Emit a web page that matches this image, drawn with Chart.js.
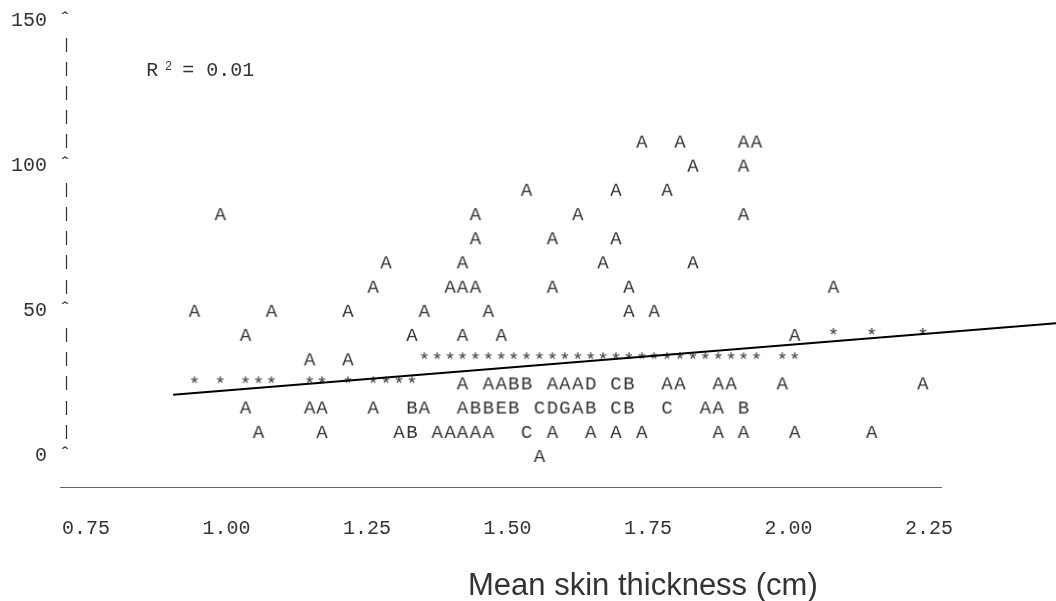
<!DOCTYPE html>
<html>
<head>
<meta charset="utf-8">
<script src="https://cdn.jsdelivr.net/npm/chart.js@4.4.1/dist/chart.umd.min.js"></script>
<style>
  html, body { margin: 0; padding: 0; background: #fff; }
  #wrap { width: 1056px; height: 601px; position: relative; }
</style>
</head>
<body>
<div id="wrap"><canvas id="plot"></canvas></div>
<script>
// axis ticks
const xTicks = [0.75, 1.00, 1.25, 1.50, 1.75, 2.00, 2.25];
const yMajorTicks = [0, 50, 100, 150];
const rowsPerMajor = 6;

// observed cells: x (cm), y, number of obs in the cell (A=1, B=2, ...)
const obsX = [
  1.739, 1.807, 1.920, 1.943,
  1.830, 1.920,
  1.534, 1.693, 1.784,
  0.989, 1.443, 1.625, 1.920,
  1.443, 1.580, 1.693,
  1.284, 1.420, 1.670, 1.830,
  1.261, 1.398, 1.420, 1.443, 1.580, 1.716, 2.080,
  0.943, 1.080, 1.216, 1.352, 1.466, 1.716, 1.761,
  1.034, 1.330, 1.420, 1.489, 2.011,
  1.148, 1.216,
  1.420, 1.466, 1.489, 1.511, 1.534, 1.580, 1.602, 1.625, 1.648, 1.693, 1.716, 1.784, 1.807, 1.875, 1.898, 1.989, 2.239,
  1.034, 1.148, 1.170, 1.261, 1.330, 1.352, 1.420, 1.443, 1.466, 1.489, 1.511, 1.557, 1.580, 1.602, 1.625, 1.648, 1.693, 1.716, 1.784, 1.852, 1.875, 1.920,
  1.057, 1.170, 1.307, 1.330, 1.375, 1.398, 1.420, 1.443, 1.466, 1.534, 1.580, 1.648, 1.693, 1.739, 1.875, 1.920, 2.011, 2.148,
  1.557
];
const obsY = [
  108.3, 108.3, 108.3, 108.3,
  100, 100,
  91.7, 91.7, 91.7,
  83.3, 83.3, 83.3, 83.3,
  75, 75, 75,
  66.7, 66.7, 66.7, 66.7,
  58.3, 58.3, 58.3, 58.3, 58.3, 58.3, 58.3,
  50, 50, 50, 50, 50, 50, 50,
  41.7, 41.7, 41.7, 41.7, 41.7,
  33.3, 33.3,
  25, 25, 25, 25, 25, 25, 25, 25, 25, 25, 25, 25, 25, 25, 25, 25, 25,
  16.7, 16.7, 16.7, 16.7, 16.7, 16.7, 16.7, 16.7, 16.7, 16.7, 16.7, 16.7, 16.7, 16.7, 16.7, 16.7, 16.7, 16.7, 16.7, 16.7, 16.7, 16.7,
  8.3, 8.3, 8.3, 8.3, 8.3, 8.3, 8.3, 8.3, 8.3, 8.3, 8.3, 8.3, 8.3, 8.3, 8.3, 8.3, 8.3, 8.3,
  0
];
const obsN = [
  1, 1, 1, 1,
  1, 1,
  1, 1, 1,
  1, 1, 1, 1,
  1, 1, 1,
  1, 1, 1, 1,
  1, 1, 1, 1, 1, 1, 1,
  1, 1, 1, 1, 1, 1, 1,
  1, 1, 1, 1, 1,
  1, 1,
  1, 1, 1, 2, 2, 1, 1, 1, 4, 3, 2, 1, 1, 1, 1, 1, 1,
  1, 1, 1, 1, 2, 1, 1, 2, 2, 5, 2, 3, 4, 7, 1, 2, 3, 2, 3, 1, 1, 2,
  1, 1, 1, 2, 1, 1, 1, 1, 1, 3, 1, 1, 1, 1, 1, 1, 1, 1,
  1
];

// predicted values printed as '*'
const predX = [
  2.080, 2.148, 2.239,
  1.352, 1.375, 1.398, 1.420, 1.443, 1.466, 1.489, 1.511, 1.534, 1.557, 1.580, 1.602, 1.625, 1.648,
  1.670, 1.693, 1.716, 1.739, 1.761, 1.784, 1.807, 1.830, 1.852, 1.875, 1.898, 1.920, 1.943, 1.989, 2.011,
  0.943, 0.989, 1.034, 1.057, 1.080, 1.148, 1.170, 1.216, 1.261, 1.284, 1.307, 1.330
];
const predY = [
  41.7, 41.7, 41.7,
  33.3, 33.3, 33.3, 33.3, 33.3, 33.3, 33.3, 33.3, 33.3, 33.3, 33.3, 33.3, 33.3, 33.3,
  33.3, 33.3, 33.3, 33.3, 33.3, 33.3, 33.3, 33.3, 33.3, 33.3, 33.3, 33.3, 33.3, 33.3, 33.3,
  25, 25, 25, 25, 25, 25, 25, 25, 25, 25, 25, 25
];

// fitted line overlay
const fitX = [0.905, 2.476];
const fitY = [21.1, 45.7];

const rSquared = '0.01';
const xTitle = 'Mean skin thickness (cm)';

const ink = '#333';
const monoFamily = '"Liberation Mono", "Courier New", monospace';
const monoFont = '20px ' + monoFamily;
const glyphFont = '19px ' + monoFamily;

// one small canvas per printed symbol, used as point style
const glyphCache = {};
function glyph(ch) {
  if (glyphCache[ch]) return glyphCache[ch];
  const c = document.createElement('canvas');
  c.width = 16; c.height = 28;
  const g = c.getContext('2d');
  g.font = glyphFont;
  g.fillStyle = ink;
  g.textAlign = 'center';
  g.textBaseline = 'alphabetic';
  const cap = g.measureText('A').actualBoundingBoxAscent;
  g.fillText(ch, 8, 14 + cap / 2);
  glyphCache[ch] = c;
  return c;
}
const letter = n => String.fromCharCode(64 + n);
const isMajor = v => yMajorTicks.some(m => Math.abs(m - v) < 1e-6);

const yRowTicks = [];
for (let i = 0; i < yMajorTicks.length - 1; i++) {
  for (let j = 0; j < rowsPerMajor; j++) {
    yRowTicks.push(yMajorTicks[i] + j * (yMajorTicks[i + 1] - yMajorTicks[i]) / rowsPerMajor);
  }
}
yRowTicks.push(yMajorTicks[yMajorTicks.length - 1]);

const printerText = {
  id: 'printerText',
  afterDraw(chart) {
    const { ctx, chartArea, scales: { x, y } } = chart;
    ctx.save();
    // underscore rule under the plot, starting one column left of the frame
    ctx.strokeStyle = '#666';
    ctx.lineWidth = 1;
    ctx.beginPath();
    ctx.moveTo(chartArea.left - 11, chartArea.bottom + 0.5);
    ctx.lineTo(chartArea.right, chartArea.bottom + 0.5);
    ctx.stroke();

    ctx.fillStyle = ink;
    ctx.textBaseline = 'alphabetic';
    ctx.textAlign = 'left';
    // R-square note
    const nx = x.getPixelForValue(0.875);
    const ny = y.getPixelForValue(133.3) + 7;
    ctx.font = monoFont;
    ctx.fillText('R', nx - 10, ny);
    ctx.font = '12px "Liberation Sans", Arial, sans-serif';
    ctx.fillText('2', nx + 9, ny - 6);
    ctx.font = monoFont;
    ctx.fillText('= ' + rSquared, nx + 26, ny);
    // axis title
    ctx.font = '31px "Liberation Sans", Arial, sans-serif';
    ctx.fillText(xTitle, 468, 595);
    ctx.restore();
  }
};

const zeroPad = s => { s.paddingLeft = 0; s.paddingRight = 0; s.paddingTop = 0; s.paddingBottom = 0; };

new Chart(document.getElementById('plot'), {
  type: 'scatter',
  data: {
    datasets: [
      {
        label: 'fit',
        data: fitX.map((v, i) => ({ x: v, y: fitY[i] })),
        showLine: true,
        borderColor: '#000',
        borderWidth: 2,
        pointRadius: 0,
        clip: false
      },
      {
        label: 'observed',
        data: obsX.map((v, i) => ({ x: v, y: obsY[i], n: obsN[i] })),
        pointRadius: 3,
        pointStyle: c => glyph(letter(c.raw ? c.raw.n : 1))
      },
      {
        label: 'predicted',
        data: predX.map((v, i) => ({ x: v, y: predY[i] })),
        pointRadius: 3,
        pointStyle: glyph('*')
      }
    ]
  },
  options: {
    responsive: true,
    maintainAspectRatio: false,
    animation: false,
    events: [],
    layout: { padding: { left: 0, right: 114, top: 10, bottom: 0 } },
    plugins: { legend: { display: false }, tooltip: { enabled: false } },
    scales: {
      x: {
        type: 'linear',
        min: 0.7233,
        max: 2.2731,
        grid: { display: false, drawTicks: false },
        border: { display: false },
        afterBuildTicks: s => { s.ticks = xTicks.map(v => ({ value: v })); },
        afterFit: s => { s.height = 114; zeroPad(s); },
        ticks: {
          autoSkip: false,
          maxRotation: 0,
          padding: 30,
          color: ink,
          font: { family: monoFamily, size: 20 },
          callback: v => Number(v).toFixed(2)
        }
      },
      y: {
        type: 'linear',
        min: -10.68,
        max: 153.62,
        grid: { display: false, drawTicks: false },
        border: { display: false },
        afterBuildTicks: s => { s.ticks = yRowTicks.map(v => ({ value: v })); },
        afterFit: s => { s.width = 71; zeroPad(s); },
        ticks: {
          autoSkip: false,
          padding: 0,
          color: ink,
          font: c => ({ family: monoFamily, size: c.tick && !isMajor(c.tick.value) ? 15 : 20 }),
          callback: v => isMajor(v) ? v + ' \u02C6' : '|'
        }
      }
    }
  },
  plugins: [printerText]
});
</script>
</body>
</html>
